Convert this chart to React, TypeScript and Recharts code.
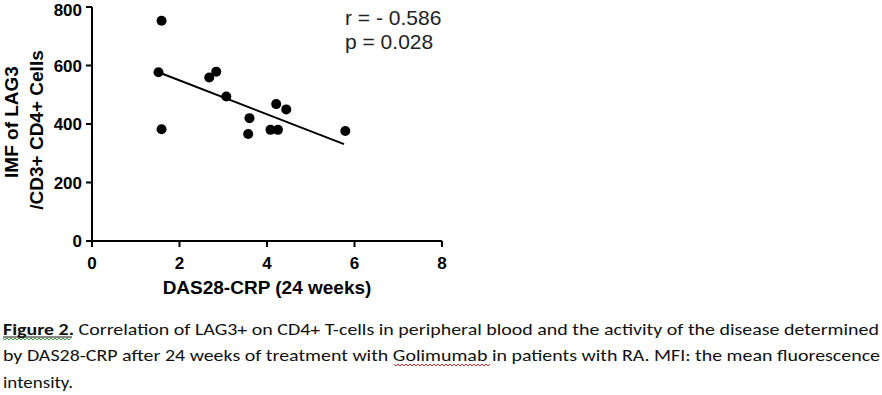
import React from "react"
import { ScatterChart, Scatter, XAxis, YAxis, ReferenceLine } from "recharts"

// DAS28-CRP (24 weeks) vs MFI of LAG3 on CD3+CD4+ cells
const dasValues = [1.59, 1.52, 1.59, 2.68, 2.84, 3.07, 3.6, 3.57, 4.21, 4.44, 4.08, 4.25, 5.79]
const lagValues = [753, 577, 382, 559, 579, 494, 420, 366, 468, 450, 380, 380, 376]

// regression line end points
const fitX = [1.52, 5.76]
const fitY = [577, 331]

const xTicks = [0, 2, 4, 6, 8]
const yTicks = [0, 200, 400, 600, 800]

const statLines = ["r = - 0.586", "p = 0.028"]

const points = dasValues.map((x, i) => ({ x, y: lagValues[i] }))

const axisFont = "'Liberation Sans', Arial, sans-serif"
const tickStyle = { fontFamily: axisFont, fontSize: 17, fontWeight: 700, fill: "#000" }
const labelStyle = { fontFamily: axisFont, fontSize: 19, fontWeight: 700, fill: "#000" }

const Dot = (props: any) => <circle cx={props.cx} cy={props.cy} r={5} fill="#000" />

const YLabel = (props: any) => {
  const { viewBox } = props
  const cy = viewBox.y + viewBox.height / 2
  return (
    <g>
      <text x={18} y={cy - 2} transform={`rotate(-90 18 ${cy - 2})`} textAnchor="middle" style={labelStyle}>
        IMF of LAG3
      </text>
      <text x={43} y={cy + 6} transform={`rotate(-90 43 ${cy + 6})`} textAnchor="middle" style={labelStyle}>
        /CD3+ CD4+ Cells
      </text>
    </g>
  )
}

const XLabel = (props: any) => {
  const { viewBox } = props
  return (
    <text x={viewBox.x + viewBox.width / 2} y={294} textAnchor="middle" style={labelStyle}>
      DAS28-CRP (24 weeks)
    </text>
  )
}

const wave = (x: number, y: number, n: number) => {
  let d = `M${x} ${y}`
  for (let i = 0; i < n; i++) d += i % 2 === 0 ? " l2 2" : " l2 -2"
  return d
}

const captionFont = "Carlito, 'Open Sans', 'Noto Sans', sans-serif"

export default function App() {
  return (
    <div style={{ position: "absolute", left: 0, top: 0, width: 882, height: 395, background: "#fff" }}>
      <ScatterChart width={882} height={300} margin={{ top: 7, right: 440, bottom: 0, left: 0 }}>
        <XAxis
          type="number"
          dataKey="x"
          domain={[0, 8]}
          ticks={xTicks}
          height={59}
          tick={tickStyle}
          tickSize={6}
          tickMargin={10}
          axisLine={{ stroke: "#000", strokeWidth: 2 }}
          tickLine={{ stroke: "#000", strokeWidth: 2 }}
          label={{ content: XLabel }}
        />
        <YAxis
          type="number"
          dataKey="y"
          domain={[0, 800]}
          ticks={yTicks}
          width={92}
          tick={tickStyle}
          tickSize={6}
          tickMargin={4}
          axisLine={{ stroke: "#000", strokeWidth: 2 }}
          tickLine={{ stroke: "#000", strokeWidth: 2 }}
          label={{ content: YLabel }}
        />
        <ReferenceLine
          segment={[
            { x: fitX[0], y: fitY[0] },
            { x: fitX[1], y: fitY[1] },
          ]}
          stroke="#000"
          strokeWidth={2}
        />
        <Scatter data={points} shape={Dot} isAnimationActive={false} />
      </ScatterChart>

      {statLines.map((s, i) => (
        <div
          key={s}
          style={{
            position: "absolute",
            left: 345,
            top: 26 + i * 24 - 20,
            fontFamily: axisFont,
            fontSize: 21,
            lineHeight: "24px",
            color: "#222",
            whiteSpace: "nowrap",
          }}
        >
          {s}
        </div>
      ))}

      <svg width={882} height={95} style={{ position: "absolute", left: 0, top: 300 }}>
        <g style={{ fontFamily: captionFont, fontSize: 16.5, fill: "#111" }}>
          <text x={3} y={35} textLength={876} lengthAdjust="spacingAndGlyphs">
            <tspan fontWeight={700}>Figure 2.</tspan> Correlation of LAG3+ on CD4+ T-cells in peripheral blood and the
            activity of the disease determined
          </text>
          <text x={3} y={61} textLength={877} lengthAdjust="spacingAndGlyphs">
            by DAS28-CRP after 24 weeks of treatment with Golimumab in patients with RA. MFI: the mean fluorescence
          </text>
          <text x={3} y={87.5} textLength={70} lengthAdjust="spacingAndGlyphs">
            intensity.
          </text>
        </g>
        <line x1={3} y1={37} x2={72} y2={37} stroke="#111" strokeWidth={1} />
        <path d={wave(3, 38, 34)} stroke="#3a9a3a" strokeWidth={1} fill="none" />
        <path d={wave(394, 64, 48)} stroke="#d03030" strokeWidth={1} fill="none" />
      </svg>
    </div>
  )
}
